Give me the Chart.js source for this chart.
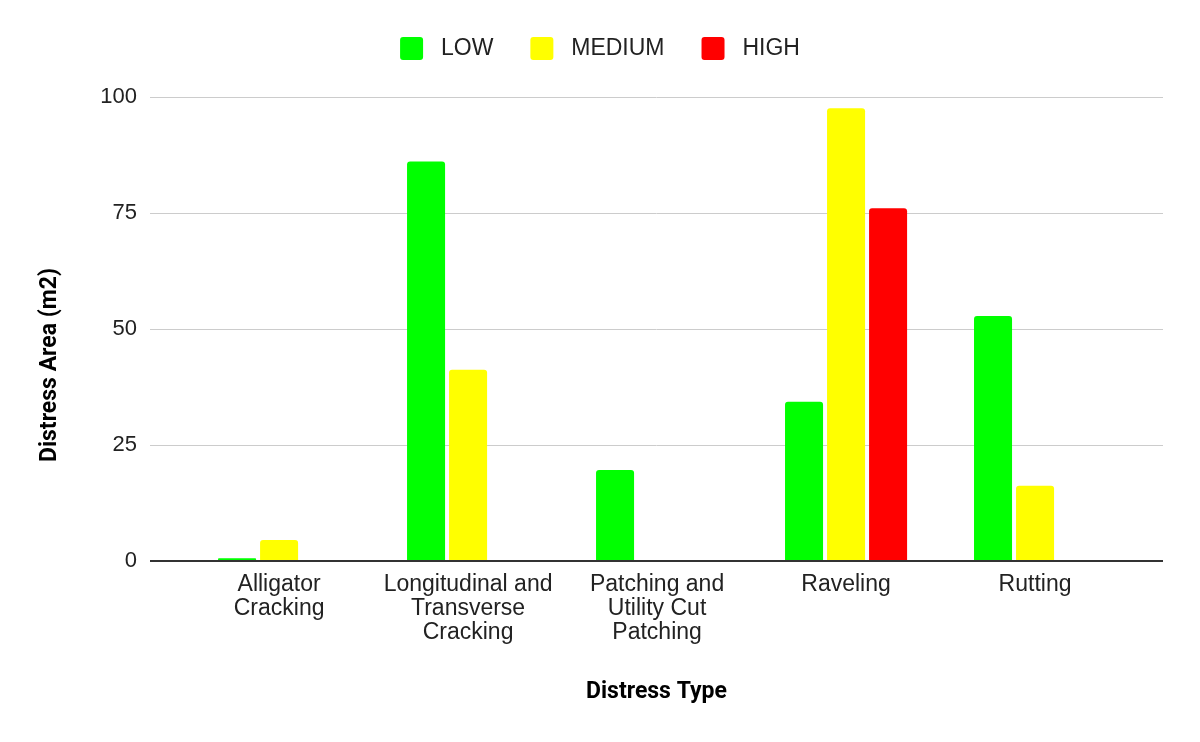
<!DOCTYPE html>
<html>
<head>
<meta charset="utf-8">
<script src="https://cdn.jsdelivr.net/npm/chart.js@4.4.1/dist/chart.umd.min.js"></script>
<style>
  html, body { margin: 0; padding: 0; background: #fff; }
  #wrap { width: 1200px; height: 742px; }
</style>
</head>
<body>
<div id="wrap"><canvas id="chart"></canvas></div>
<script>
const categories = [
  ['Alligator', 'Cracking'],
  ['Longitudinal and', 'Transverse', 'Cracking'],
  ['Patching and', 'Utility Cut', 'Patching'],
  ['Raveling'],
  ['Rutting']
];
const lowValues = [0.6, 86.1, 19.6, 34.3, 52.8];
const mediumValues = [4.5, 41.2, null, 97.6, 16.2];
const highValues = [null, null, null, 76, null];
const yTicks = [0, 25, 50, 75, 100];
const yTitle = 'Distress Area (m2)';

const labelFont = "'Liberation Sans', Arial, sans-serif";
const titleFont = "Roboto, 'Liberation Sans', Arial, sans-serif";

const toPoints = (vals) => vals.map((v, i) => ({ x: i, y: v }));

// extra room between the legend and the plot
const legendSpacing = {
  id: 'legendSpacing',
  beforeInit(chart) {
    const fit = chart.legend.fit;
    chart.legend.fit = function () {
      fit.call(this);
      this.height += 27;
    };
  }
};

// y axis title sits a bit below the plot middle, like the original
const yTitlePlugin = {
  id: 'yTitle',
  afterDraw(chart) {
    const c = chart.ctx;
    c.save();
    c.translate(50.5, 365);
    c.rotate(-Math.PI / 2);
    c.font = 'bold 23px ' + titleFont;
    c.fillStyle = '#000';
    c.textAlign = 'center';
    c.textBaseline = 'middle';
    c.fillText(yTitle, 0, 0);
    c.restore();
  }
};

const ctx = document.getElementById('chart').getContext('2d');

new Chart(ctx, {
  type: 'bar',
  data: {
    datasets: [
      { label: 'LOW', data: toPoints(lowValues), backgroundColor: '#00ff00' },
      { label: 'MEDIUM', data: toPoints(mediumValues), backgroundColor: '#ffff00' },
      { label: 'HIGH', data: toPoints(highValues), backgroundColor: '#ff0000' }
    ]
  },
  plugins: [legendSpacing, yTitlePlugin],
  options: {
    responsive: true,
    maintainAspectRatio: false,
    animation: false,
    layout: { padding: { top: 0, right: 37, bottom: 0, left: 37 } },
    datasets: {
      bar: {
        categoryPercentage: 0.667,
        barPercentage: 0.905,
        borderRadius: 3,
        borderSkipped: 'start'
      }
    },
    plugins: {
      tooltip: { enabled: false },
      legend: {
        position: 'top',
        labels: {
          boxWidth: 23,
          boxHeight: 23,
          useBorderRadius: true,
          borderRadius: 3,
          padding: 37,
          color: '#222',
          font: { family: labelFont, size: 23 },
          generateLabels: (chart) =>
            Chart.defaults.plugins.legend.labels.generateLabels(chart)
              .map((item) => ({ ...item, text: ' ' + item.text }))
        }
      }
    },
    scales: {
      x: {
        type: 'linear',
        offset: false,
        min: -0.683,
        max: 4.677,
        afterBuildTicks: (scale) => {
          scale.ticks = categories.map((c, i) => ({ value: i }));
        },
        afterFit: (scale) => { scale.height = 181; },
        grid: { display: false, offset: false },
        border: { display: false },
        ticks: {
          autoSkip: false,
          maxRotation: 0,
          padding: 4,
          color: '#222',
          font: { family: labelFont, size: 23, lineHeight: 1.04 },
          callback: (value) => categories[Math.round(value)]
        },
        title: {
          display: true,
          text: 'Distress Type',
          color: '#000',
          padding: { top: 0, bottom: 36 },
          font: { family: titleFont, size: 23, weight: 'bold' }
        }
      },
      y: {
        min: 0,
        max: 100,
        afterBuildTicks: (scale) => {
          scale.ticks = yTicks.map((v) => ({ value: v }));
        },
        afterFit: (scale) => { scale.width = 113; },
        border: { display: false },
        grid: {
          drawTicks: false,
          color: (c) => (c.tick && c.tick.value === 0 ? '#333' : '#ccc'),
          lineWidth: (c) => (c.tick && c.tick.value === 0 ? 2 : 1)
        },
        ticks: {
          padding: 13,
          color: '#222',
          font: { family: labelFont, size: 22 }
        },
        title: { display: false }
      }
    }
  }
});
</script>
</body>
</html>
